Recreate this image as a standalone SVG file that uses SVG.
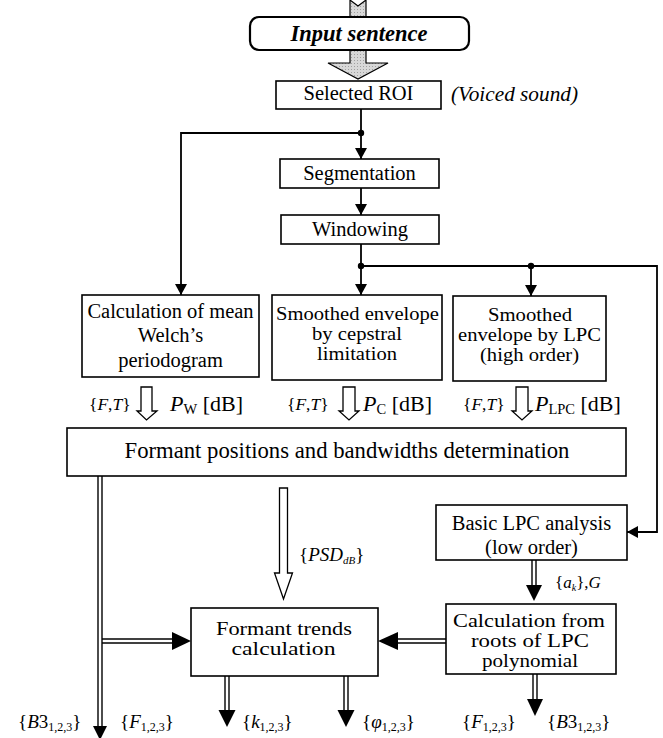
<svg xmlns="http://www.w3.org/2000/svg" width="663" height="738" viewBox="0 0 663 738">
<style>
text{font-family:"Liberation Serif","Times New Roman",serif;fill:#000}
.t{font-size:20.5px;text-anchor:middle}
.s{font-size:18px;text-anchor:middle}
.box{fill:#fff;stroke:#000;stroke-width:1.6}
.ln{fill:none;stroke:#000;stroke-width:1.8}
.dl{fill:none;stroke:#000;stroke-width:1.4}
.hol{fill:#fff;stroke:#000;stroke-width:1.3}
.hd{fill:#000;stroke:none}
.lab{font-size:17.5px}
.pl{font-size:22px}
.i{font-style:italic}
.bl{font-size:19px}
</style>
<defs>
<marker id="ah" markerUnits="userSpaceOnUse" markerWidth="12" markerHeight="12" refX="11" refY="6" orient="auto">
<path d="M0,0 L11,6 L0,12 z" fill="#000"/>
</marker>
<pattern id="dots" width="3" height="3" patternUnits="userSpaceOnUse">
<rect width="3" height="3" fill="#d8d8d8"/>
<rect width="1" height="1" fill="#a0a0a0"/>
</pattern>
</defs>

<g id="connectors">
<polygon points="350,0 358,6 366,0 366,63 388,63 358,79 328,63 350,63" fill="url(#dots)" stroke="#000" stroke-width="1.2"/>
<line class="ln" x1="361" y1="109" x2="361" y2="159" marker-end="url(#ah)"/>
<circle cx="361" cy="133" r="3.2"/>
<polyline class="ln" points="361,133 181,133 181,295" marker-end="url(#ah)"/>
<line class="ln" x1="361" y1="188" x2="361" y2="215" marker-end="url(#ah)"/>
<line class="ln" x1="361" y1="244" x2="361" y2="295" marker-end="url(#ah)"/>
<circle cx="361" cy="266" r="3.2"/>
<polyline class="ln" points="361,266 657,266 657,532 627,532" marker-end="url(#ah)"/>
<circle cx="531" cy="266" r="3.2"/>
<line class="ln" x1="531" y1="266" x2="531" y2="296" marker-end="url(#ah)"/>
<polygon class="hol" points="141,387 152,387 152,411 157,411 146.5,420 137,411 141,411"/>
<polygon class="hol" points="343,387 355,387 355,411 359,411 349,420 339,411 343,411"/>
<polygon class="hol" points="516,387 528,387 528,411 532,411 522,420 512,411 516,411"/>
<polygon class="hol" points="279.5,488 287.5,488 287.5,573 292.5,573 283.5,599 274.5,573 279.5,573"/>
<line class="dl" x1="98" y1="476" x2="98" y2="727"/>
<line class="dl" x1="102" y1="476" x2="102" y2="727"/>
<polygon class="hd" points="93,726 107,726 100,740"/>
<line class="dl" x1="102" y1="639" x2="174" y2="639"/>
<line class="dl" x1="102" y1="643" x2="174" y2="643"/>
<polygon class="hd" points="172,632 172,650 191,641"/>
<line class="dl" x1="446" y1="639" x2="396" y2="639"/>
<line class="dl" x1="446" y1="643" x2="396" y2="643"/>
<polygon class="hd" points="398,632 398,650 378,641"/>
<line class="dl" x1="532" y1="560" x2="532" y2="587"/>
<line class="dl" x1="536" y1="560" x2="536" y2="587"/>
<polygon class="hd" points="526,585 542,585 534,601"/>
<line class="dl" x1="225" y1="676" x2="225" y2="711"/>
<line class="dl" x1="229" y1="676" x2="229" y2="711"/>
<polygon class="hd" points="218.5,710 235.5,710 227,727"/>
<line class="dl" x1="344" y1="676" x2="344" y2="711"/>
<line class="dl" x1="348" y1="676" x2="348" y2="711"/>
<polygon class="hd" points="337.5,710 354.5,710 346,727"/>
<line class="dl" x1="533" y1="674" x2="533" y2="700"/>
<line class="dl" x1="537" y1="674" x2="537" y2="700"/>
<polygon class="hd" points="527,699 543,699 535,716"/>
</g>

<g id="input">
<rect x="250" y="17" width="219" height="33" rx="9" ry="9" fill="#fff" stroke="#000" stroke-width="2.2"/>
<text x="359" y="41" style="font-size:22.5px;font-weight:bold;font-style:italic;text-anchor:middle">Input sentence</text>
</g>
<g id="roi">
<rect class="box" x="276" y="81" width="165" height="28"/>
<text class="t" x="358.5" y="100">Selected ROI</text>
<text class="i" x="451" y="101" style="font-size:20.5px" textLength="127" lengthAdjust="spacingAndGlyphs">(Voiced sound)</text>
</g>
<g id="segmentation">
<rect class="box" x="280" y="159" width="159" height="29"/>
<text class="t" x="359.5" y="180">Segmentation</text>
</g>
<g id="windowing">
<rect class="box" x="281" y="215" width="158" height="29"/>
<text class="t" x="360" y="236">Windowing</text>
</g>
<g id="welch">
<rect class="box" x="82" y="295" width="177" height="82"/>
<text class="t" x="170.5" y="318">Calculation of mean</text>
<text class="t" x="170.5" y="342">Welch’s</text>
<text class="t" x="170.5" y="367">periodogram</text>
</g>
<g id="cepstral">
<rect class="box" x="272" y="295" width="170" height="85"/>
<text class="s" x="357.5" y="320" textLength="163" lengthAdjust="spacingAndGlyphs">Smoothed envelope</text>
<text class="s" x="357" y="340" textLength="90" lengthAdjust="spacingAndGlyphs">by cepstral</text>
<text class="s" x="357" y="360" textLength="80" lengthAdjust="spacingAndGlyphs">limitation</text>
</g>
<g id="lpc-high">
<rect class="box" x="453" y="296" width="153" height="85"/>
<text class="s" x="530" y="321" textLength="84" lengthAdjust="spacingAndGlyphs">Smoothed</text>
<text class="s" x="529.5" y="341" textLength="143" lengthAdjust="spacingAndGlyphs">envelope by LPC</text>
<text class="s" x="529.5" y="361" textLength="99" lengthAdjust="spacingAndGlyphs">(high order)</text>
</g>
<g id="labels-row">
<text class="lab" x="89" y="410">{<tspan class="i">F</tspan>,<tspan class="i">T</tspan>}</text>
<text class="pl" x="170" y="411"><tspan class="i">P</tspan><tspan dy="3" style="font-size:14.5px">W</tspan><tspan dy="-3"> [dB]</tspan></text>
<text class="lab" x="287" y="410">{<tspan class="i">F</tspan>,<tspan class="i">T</tspan>}</text>
<text class="pl" x="363" y="411"><tspan class="i">P</tspan><tspan dy="3" style="font-size:14.5px">C</tspan><tspan dy="-3"> [dB]</tspan></text>
<text class="lab" x="463" y="410">{<tspan class="i">F</tspan>,<tspan class="i">T</tspan>}</text>
<text class="pl" x="535" y="411"><tspan class="i">P</tspan><tspan dy="3" style="font-size:14.5px">LPC</tspan><tspan dy="-3"> [dB]</tspan></text>
</g>
<g id="formant-positions">
<rect class="box" x="67" y="428" width="559" height="48"/>
<text x="347" y="458" style="font-size:22.7px;text-anchor:middle">Formant positions and bandwidths determination</text>
</g>
<g id="psd-label">
<text x="299" y="561" style="font-size:19px">{<tspan class="i">PSD</tspan><tspan class="i" dy="3" style="font-size:11px">dB</tspan><tspan dy="-3">}</tspan></text>
</g>
<g id="basic-lpc">
<rect class="box" x="436" y="505" width="191" height="55"/>
<text class="t" x="531.5" y="530">Basic LPC analysis</text>
<text class="t" x="531.5" y="554">(low order)</text>
</g>
<g id="ak-label">
<text x="555" y="588" style="font-size:17px">{<tspan class="i">a</tspan><tspan class="i" dy="3" style="font-size:10px">k</tspan><tspan dy="-3">},</tspan><tspan class="i">G</tspan></text>
</g>
<g id="formant-trends">
<rect class="box" x="191" y="608" width="187" height="68"/>
<text class="s" x="284" y="635" textLength="136" lengthAdjust="spacingAndGlyphs">Formant trends</text>
<text class="s" x="283.5" y="655" textLength="104" lengthAdjust="spacingAndGlyphs">calculation</text>
</g>
<g id="roots">
<rect class="box" x="446" y="604" width="170" height="70"/>
<text class="s" x="529" y="627" textLength="152" lengthAdjust="spacingAndGlyphs">Calculation from</text>
<text class="s" x="530" y="647" textLength="118" lengthAdjust="spacingAndGlyphs">roots of LPC</text>
<text class="s" x="530" y="667" textLength="96" lengthAdjust="spacingAndGlyphs">polynomial</text>
</g>
<g id="outputs">
<text class="bl" x="18" y="728">{<tspan class="i">B</tspan>3<tspan dy="3" style="font-size:12px">1,2,3</tspan><tspan dy="-3">}</tspan></text>
<text class="bl" x="120" y="728">{<tspan class="i">F</tspan><tspan dy="3" style="font-size:12px">1,2,3</tspan><tspan dy="-3">}</tspan></text>
<text class="bl" x="242" y="728">{<tspan class="i">k</tspan><tspan dy="3" style="font-size:12px">1,2,3</tspan><tspan dy="-3">}</tspan></text>
<text class="bl" x="362" y="728">{<tspan class="i">φ</tspan><tspan dy="3" style="font-size:12px">1,2,3</tspan><tspan dy="-3">}</tspan></text>
<text class="bl" x="462" y="728">{<tspan class="i">F</tspan><tspan dy="3" style="font-size:12px">1,2,3</tspan><tspan dy="-3">}</tspan></text>
<text class="bl" x="547" y="728">{<tspan class="i">B</tspan>3<tspan dy="3" style="font-size:12px">1,2,3</tspan><tspan dy="-3">}</tspan></text>
</g>
</svg>
